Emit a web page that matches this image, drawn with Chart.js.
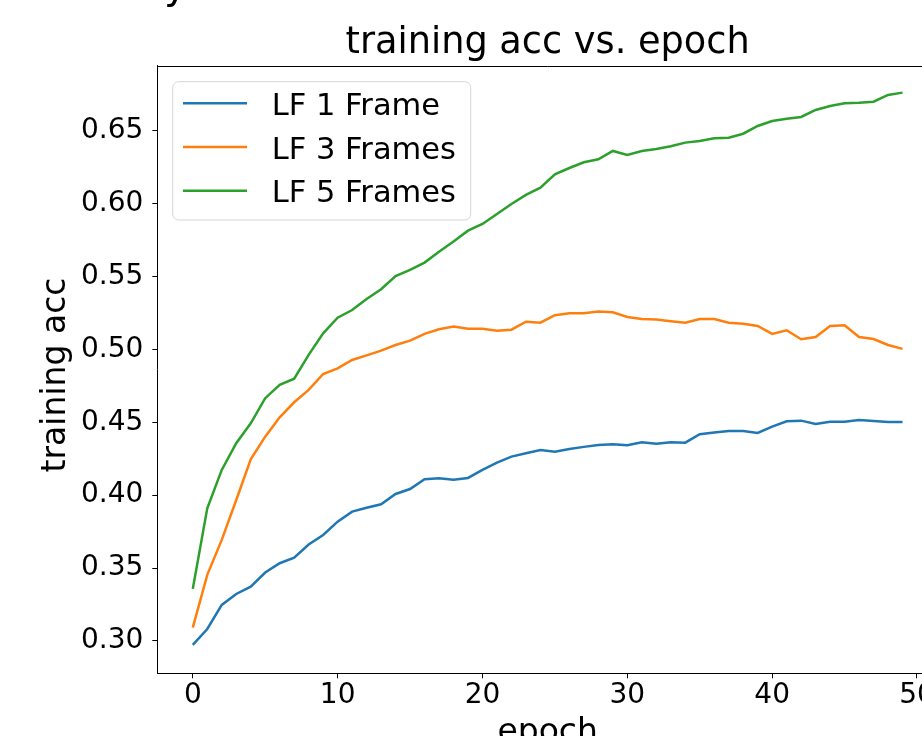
<!DOCTYPE html>
<html>
<head>
<meta charset="utf-8">
<script src="https://cdn.jsdelivr.net/npm/chart.js@4.4.1/dist/chart.umd.min.js"></script>
<style>
  html, body { margin: 0; padding: 0; background: #fff; overflow: hidden; width: 922px; height: 736px; }
  #wrap { position: relative; width: 922px; height: 736px; overflow: hidden; }
  #c { position: absolute; left: 0; top: 0; }
  #cut { position: absolute; left: 164px; top: -36px; font-family: "DejaVu Sans"; font-size: 40px; line-height: 40px; color: #000; }
</style>
</head>
<body>
<div id="wrap">
  <canvas id="c" width="1000" height="780" style="width:1000px;height:780px"></canvas>
  <div id="cut">y</div>
</div>
<script>
// ---- data ----
const epochs = [0,1,2,3,4,5,6,7,8,9,10,11,12,13,14,15,16,17,18,19,20,21,22,23,24,25,26,27,28,29,30,31,32,33,34,35,36,37,38,39,40,41,42,43,44,45,46,47,48,49];
const seriesNames = ["LF 1 Frame", "LF 3 Frames", "LF 5 Frames"];
const lf1 = [0.2973,0.3082,0.3247,0.3322,0.3372,0.3469,0.3533,0.3571,0.3661,0.3727,0.3818,0.3887,0.3914,0.3937,0.4008,0.4042,0.4109,0.4116,0.4106,0.4118,0.4173,0.4223,0.4264,0.4287,0.4310,0.4298,0.4317,0.4331,0.4344,0.4349,0.4342,0.4363,0.4353,0.4363,0.4360,0.4418,0.4429,0.4440,0.4440,0.4427,0.4470,0.4507,0.4511,0.4488,0.4504,0.4504,0.4516,0.4509,0.4502,0.4502];
const lf3 = [0.3091,0.3453,0.3693,0.3967,0.4246,0.4401,0.4534,0.4637,0.4722,0.4831,0.4870,0.4927,0.4959,0.4991,0.5030,0.5060,0.5106,0.5138,0.5156,0.5142,0.5142,0.5128,0.5135,0.5190,0.5183,0.5234,0.5248,0.5248,0.5259,0.5254,0.5222,0.5208,0.5204,0.5193,0.5183,0.5208,0.5208,0.5183,0.5176,0.5160,0.5106,0.5131,0.5069,0.5085,0.5160,0.5165,0.5085,0.5071,0.5030,0.5003];
const lf5 = [0.3357,0.3910,0.4173,0.4356,0.4493,0.4665,0.4756,0.4799,0.4962,0.5110,0.5217,0.5270,0.5346,0.5412,0.5503,0.5545,0.5595,0.5670,0.5739,0.5814,0.5860,0.5929,0.5997,0.6059,0.6109,0.6201,0.6244,0.6283,0.6304,0.6361,0.6333,0.6361,0.6374,0.6393,0.6418,0.6429,0.6448,0.6452,0.6479,0.6532,0.6566,0.6582,0.6594,0.6642,0.6669,0.6688,0.6692,0.6699,0.6745,0.6761];
const xTicks = [0,10,20,30,40,50];
const yTicks = [0.30,0.35,0.40,0.45,0.50,0.55,0.60,0.65];
const colors = ["#1f77b4", "#ff7f0e", "#2ca02c"];
const yTitle = "training acc";

// ---- chart ----
Chart.defaults.font.family = "'DejaVu Sans', sans-serif";
Chart.defaults.color = "#000";

const allSeries = [lf1, lf3, lf5];
const datasets = allSeries.map((vals, k) => ({
  label: seriesNames[k],
  data: vals.map((v, i) => ({ x: epochs[i], y: v })),
  borderColor: colors[k],
  backgroundColor: colors[k],
  borderWidth: 2.5,
  pointRadius: 0,
  tension: 0,
  fill: false
}));

const framePlugin = {
  id: 'frame',
  afterDatasetsDraw(chart) {
    const { ctx, chartArea: a } = chart;
    ctx.save();
    ctx.strokeStyle = '#000';
    ctx.lineWidth = 1;
    ctx.beginPath();
    ctx.moveTo(a.left, Math.round(a.top) + 0.5);
    ctx.lineTo(a.right, Math.round(a.top) + 0.5);
    ctx.moveTo(Math.round(a.right) + 0.5, a.top);
    ctx.lineTo(Math.round(a.right) + 0.5, a.bottom);
    ctx.stroke();
    // y axis title, centred like matplotlib's ylabel
    ctx.save();
    ctx.translate(56, (a.top + a.bottom) / 2 + 5.5);
    ctx.rotate(-Math.PI / 2);
    ctx.fillStyle = '#000';
    ctx.font = "33px 'DejaVu Sans'";
    ctx.textAlign = 'center';
    ctx.textBaseline = 'middle';
    ctx.fillText(yTitle, 0, 0);
    ctx.restore();
    ctx.restore();
  },
  afterDraw(chart) {
    const { ctx } = chart;
    const bx = 172.7, by = 81.7, bw = 298, bh = 138.3, r = 6;
    ctx.save();
    ctx.beginPath();
    ctx.moveTo(bx + r, by);
    ctx.lineTo(bx + bw - r, by);
    ctx.arcTo(bx + bw, by, bx + bw, by + r, r);
    ctx.lineTo(bx + bw, by + bh - r);
    ctx.arcTo(bx + bw, by + bh, bx + bw - r, by + bh, r);
    ctx.lineTo(bx + r, by + bh);
    ctx.arcTo(bx, by + bh, bx, by + bh - r, r);
    ctx.lineTo(bx, by + r);
    ctx.arcTo(bx, by, bx + r, by, r);
    ctx.closePath();
    ctx.fillStyle = 'rgba(255,255,255,0.8)';
    ctx.fill();
    ctx.strokeStyle = '#d6d6d6';
    ctx.lineWidth = 1;
    ctx.stroke();
    chart.data.datasets.forEach((ds, i) => {
      const y = 103.3 + i * 43.7;
      ctx.strokeStyle = ds.borderColor;
      ctx.lineWidth = 2.5;
      ctx.beginPath();
      ctx.moveTo(183, y);
      ctx.lineTo(247, y);
      ctx.stroke();
      ctx.fillStyle = '#000';
      ctx.font = "30.5px 'DejaVu Sans'";
      ctx.textBaseline = 'alphabetic';
      ctx.textAlign = 'left';
      ctx.fillText(ds.label, 271.7, y + 11.7);
    });
    ctx.restore();
  }
};

new Chart(document.getElementById('c'), {
  type: 'line',
  data: { datasets },
  plugins: [framePlugin],
  options: {
    responsive: false,
    devicePixelRatio: 1,
    animation: false,
    layout: { padding: { left: 0, top: 0, right: 62, bottom: 0 } },
    plugins: {
      legend: { display: false },
      tooltip: { enabled: false },
      title: {
        display: true,
        text: 'training acc vs. epoch',
        fullSize: false,
        color: '#000',
        font: { size: 36.7, weight: 'normal', lineHeight: 1.2 },
        padding: { top: 21.6, bottom: 0 }
      }
    },
    scales: {
      x: {
        type: 'linear',
        min: -2.45,
        max: 51.45,
        bounds: 'data',
        afterBuildTicks: (s) => { s.ticks = xTicks.map(v => ({ value: v })); },
        afterFit: (s) => { s.height = 106.7; },
        ticks: { font: { size: 28 }, color: '#000', padding: 1, autoSkip: false, maxRotation: 0, callback: (v) => String(v) },
        grid: { drawOnChartArea: false, drawTicks: true, tickLength: 5, tickColor: '#000', tickWidth: 1 },
        border: { display: true, color: '#000', width: 1 },
        title: { display: true, text: 'epoch', color: '#000', font: { size: 33 }, padding: { top: 0, bottom: 26.6 } }
      },
      y: {
        type: 'linear',
        min: 0.2778,
        max: 0.6946,
        bounds: 'data',
        afterBuildTicks: (s) => { s.ticks = yTicks.map(v => ({ value: v })); },
        afterFit: (s) => { s.width = 157.3; },
        ticks: { font: { size: 28 }, color: '#000', padding: 9, autoSkip: false, callback: (v) => Number(v).toFixed(2) },
        grid: { drawOnChartArea: false, drawTicks: true, tickLength: 5, tickColor: '#000', tickWidth: 1 },
        border: { display: true, color: '#000', width: 1 },
        title: { display: false }
      }
    }
  }
});
</script>
</body>
</html>
